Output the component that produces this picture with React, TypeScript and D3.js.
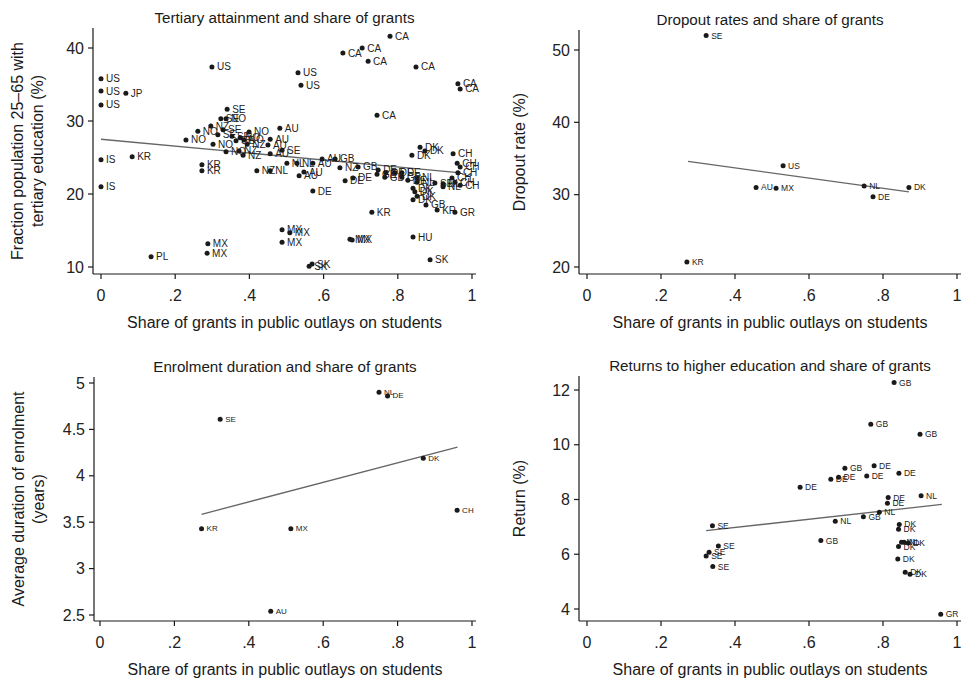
import * as d3 from "d3";

const FONT = "'Liberation Sans', Arial, Helvetica, sans-serif";

type Pt = [string, number, number];

const shareTicks = [0, 0.2, 0.4, 0.6, 0.8, 1];
const shareLabel = "Share of grants in public outlays on students";

// tertiary attainment: country, share of grants, % of population 25-65 with tertiary education
const tertiaryPoints: Pt[] = [
  ["US", 0, 35.8], ["US", 0, 34.1], ["US", 0, 32.2], ["JP", 0.067, 33.8],
  ["IS", 0, 24.7], ["IS", 0, 21.0], ["KR", 0.084, 25.1], ["PL", 0.135, 11.4],
  ["US", 0.299, 37.4], ["SE", 0.34, 31.6], ["SE", 0.323, 30.3], ["NO", 0.337, 30.3],
  ["NZ", 0.296, 29.3], ["NO", 0.261, 28.6], ["SE", 0.329, 28.8], ["NO", 0.399, 28.5],
  ["AU", 0.482, 29.0], ["NO", 0.229, 27.4], ["NO", 0.302, 26.8], ["SE", 0.315, 28.1],
  ["SE", 0.353, 27.9], ["NO", 0.375, 27.7], ["SE", 0.364, 27.3], ["NO", 0.385, 27.4],
  ["AU", 0.456, 27.5], ["AU", 0.45, 26.7], ["NZ", 0.394, 26.8], ["NZ", 0.372, 25.9],
  ["NO", 0.337, 25.8], ["NZ", 0.383, 25.3], ["AU", 0.456, 25.5], ["SE", 0.488, 26.0],
  ["NL", 0.501, 24.2], ["KR", 0.272, 24.0], ["KR", 0.272, 23.2], ["NZ", 0.42, 23.2],
  ["NL", 0.456, 23.2], ["NL", 0.528, 24.2], ["AU", 0.571, 24.2], ["AU", 0.596, 24.8],
  ["GB", 0.631, 24.8], ["AU", 0.547, 23.0], ["AU", 0.534, 22.5], ["NZ", 0.644, 23.6],
  ["GB", 0.693, 23.7], ["DE", 0.679, 22.2], ["DE", 0.658, 21.8], ["DE", 0.571, 20.4],
  ["DE", 0.747, 23.3], ["GB", 0.744, 22.7], ["GB", 0.765, 22.3], ["DE", 0.768, 22.9],
  ["DE", 0.792, 22.9], ["DE", 0.811, 22.9], ["DE", 0.827, 21.9], ["NL", 0.852, 22.2],
  ["NL", 0.852, 21.6], ["DK", 0.86, 26.4], ["DK", 0.873, 25.9], ["DK", 0.838, 25.3],
  ["CH", 0.949, 25.5], ["CH", 0.96, 24.2], ["CH", 0.968, 23.7], ["CH", 0.962, 22.9],
  ["CH", 0.946, 22.2], ["CH", 0.954, 21.6], ["CH", 0.968, 21.2], ["SE", 0.9, 21.5],
  ["NL", 0.922, 21.4], ["NL", 0.922, 21.0], ["DK", 0.841, 20.8], ["DK", 0.846, 20.3],
  ["DK", 0.852, 19.7], ["DK", 0.841, 19.2], ["GB", 0.876, 18.5], ["KR", 0.906, 17.8],
  ["GR", 0.954, 17.5], ["KR", 0.73, 17.5], ["MX", 0.488, 15.1], ["MX", 0.509, 14.7],
  ["MX", 0.488, 13.4], ["MX", 0.288, 13.2], ["MX", 0.286, 11.9], ["MX", 0.671, 13.8],
  ["MX", 0.677, 13.7], ["HU", 0.841, 14.1], ["SK", 0.887, 11.0], ["SK", 0.569, 10.4],
  ["SK", 0.561, 10.1], ["CA", 0.779, 41.6], ["CA", 0.704, 40.0], ["CA", 0.652, 39.3],
  ["CA", 0.72, 38.2], ["CA", 0.849, 37.4], ["CA", 0.962, 35.1], ["CA", 0.968, 34.4],
  ["US", 0.531, 36.6], ["US", 0.539, 34.9], ["CA", 0.744, 30.8], ["GB", 0.811, 22.3],
];
const tertiaryFit: [number, number][] = [[0, 27.5], [0.97, 22.9]];
const tertiaryTicks = [10, 20, 30, 40];

// dropout rates (%)
const dropoutPoints: Pt[] = [
  ["SE", 0.322, 52.0], ["US", 0.53, 34.0], ["AU", 0.457, 31.0], ["MX", 0.511, 30.9],
  ["NL", 0.749, 31.2], ["DE", 0.773, 29.7], ["DK", 0.87, 31.0], ["KR", 0.27, 20.7],
];
const dropoutFit: [number, number][] = [[0.273, 34.6], [0.87, 30.4]];
const dropoutTicks = [20, 30, 40, 50];

// average duration of enrolment (years)
const enrolPoints: Pt[] = [
  ["NL", 0.75, 4.9], ["DE", 0.773, 4.86], ["SE", 0.323, 4.61], ["DK", 0.869, 4.19],
  ["CH", 0.96, 3.63], ["KR", 0.273, 3.43], ["MX", 0.513, 3.43], ["AU", 0.459, 2.54],
];
const enrolFit: [number, number][] = [[0.273, 3.585], [0.961, 4.31]];
const enrolTicks = [2.5, 3, 3.5, 4, 4.5, 5];

// returns to higher education (%)
const returnPoints: Pt[] = [
  ["SE", 0.339, 7.04], ["SE", 0.355, 6.3], ["SE", 0.33, 6.07], ["SE", 0.322, 5.94],
  ["SE", 0.34, 5.55], ["GB", 0.83, 12.27], ["GB", 0.767, 10.75], ["GB", 0.9, 10.38],
  ["GB", 0.697, 9.14], ["DE", 0.776, 9.23], ["DE", 0.68, 8.81], ["DE", 0.659, 8.74],
  ["DE", 0.756, 8.86], ["DE", 0.843, 8.96], ["DE", 0.576, 8.45], ["DE", 0.814, 8.07],
  ["DE", 0.812, 7.86], ["NL", 0.903, 8.14], ["NL", 0.79, 7.53], ["GB", 0.747, 7.37],
  ["NL", 0.671, 7.21], ["GB", 0.632, 6.5], ["DK", 0.844, 7.09], ["DK", 0.842, 6.91],
  ["NL", 0.85, 6.44], ["DK", 0.842, 6.28], ["NL", 0.857, 6.44], ["DK", 0.868, 6.41],
  ["DK", 0.84, 5.83], ["DK", 0.86, 5.34], ["DK", 0.873, 5.27], ["GR", 0.956, 3.81],
];
const returnFit: [number, number][] = [[0.322, 6.86], [0.959, 7.82]];
const returnTicks = [4, 6, 8, 10, 12];

const fmtShare = (v: number) => (v === 0 ? "0" : v === 1 ? "1" : d3.format(".1f")(v).replace(/^0/, ""));

function Panel({ frame, xRange, yDomain, yRange, yTicks, points, fit, title, yLabel, labelSize }: any) {
  const x = d3.scaleLinear().domain([0, 1]).range(xRange);
  const y = d3.scaleLinear().domain(yDomain).range(yRange);
  const line = d3.line<[number, number]>().x((d) => x(d[0])).y((d) => y(d[1]));
  const { left, right, top, bottom } = frame;
  const cy = (top + bottom) / 2;
  const cx = (left + right) / 2;
  const labelXs = yLabel.length === 2 ? [left - 76, left - 56] : [left - 60];
  return (
    <g fontFamily={FONT}>
      <text x={cx} y={top - 10.5} textAnchor="middle" dominantBaseline="central" fontSize={15.2} fill="#1a1a1a">
        {title}
      </text>
      {yLabel.map((t: string, i: number) => (
        <text key={i} transform={`translate(${labelXs[i]},${cy}) rotate(-90)`} textAnchor="middle"
          dominantBaseline="central" fontSize={16} fill="#1a1a1a">
          {t}
        </text>
      ))}
      <line x1={left} x2={left} y1={top} y2={bottom} stroke="#1a1a1a" strokeWidth={1.2} />
      <line x1={left} x2={right} y1={bottom} y2={bottom} stroke="#1a1a1a" strokeWidth={1.2} />
      {yTicks.map((t: number) => (
        <g key={t} transform={`translate(${left},${y(t)})`}>
          <line x1={0} x2={-5} stroke="#1a1a1a" strokeWidth={1.2} />
          <text x={-9} textAnchor="end" dominantBaseline="central" fontSize={16} fill="#222">
            {t}
          </text>
        </g>
      ))}
      {shareTicks.map((t) => (
        <g key={t} transform={`translate(${x(t)},${bottom})`}>
          <line y1={0} y2={5} stroke="#1a1a1a" strokeWidth={1.2} />
          <text y={21} textAnchor="middle" dominantBaseline="central" fontSize={16} fill="#222">
            {fmtShare(t)}
          </text>
        </g>
      ))}
      <text x={cx} y={bottom + 48} textAnchor="middle" dominantBaseline="central" fontSize={16} fill="#1a1a1a">
        {shareLabel}
      </text>
      <path d={line(fit) ?? ""} fill="none" stroke="#666" strokeWidth={1.3} />
      {points.map((p: Pt, i: number) => (
        <g key={i}>
          <circle cx={x(p[1])} cy={y(p[2])} r={2.5} fill="#1a1a1a" />
          <text x={x(p[1]) + 5} y={y(p[2])} dominantBaseline="central" fontSize={labelSize} fill="#222">
            {p[0]}
          </text>
        </g>
      ))}
    </g>
  );
}

export default function App() {
  return (
    <div style={{ position: "absolute", left: 0, top: 0 }}>
      <svg width={964} height={680} style={{ display: "block", background: "#fff" }}>
        <Panel
          frame={{ left: 93, right: 476, top: 28, bottom: 274 }}
          xRange={[101, 472]} yDomain={[10, 40]} yRange={[267, 48]} yTicks={tertiaryTicks}
          points={tertiaryPoints} fit={tertiaryFit} labelSize={10}
          title="Tertiary attainment and share of grants"
          yLabel={["Fraction population 25\u201365 with", "tertiary education (%)"]}
        />
        <Panel
          frame={{ left: 579, right: 961, top: 30, bottom: 274 }}
          xRange={[587, 957]} yDomain={[20, 50]} yRange={[267, 50]} yTicks={dropoutTicks}
          points={dropoutPoints} fit={dropoutFit} labelSize={8.5}
          title="Dropout rates and share of grants"
          yLabel={["Dropout rate (%)"]}
        />
        <Panel
          frame={{ left: 94, right: 476, top: 377, bottom: 621 }}
          xRange={[100, 472]} yDomain={[2.5, 5]} yRange={[615, 383]} yTicks={enrolTicks}
          points={enrolPoints} fit={enrolFit} labelSize={8}
          title="Enrolment duration and share of grants"
          yLabel={["Average duration of enrolment", "(years)"]}
        />
        <Panel
          frame={{ left: 579, right: 961, top: 376, bottom: 621 }}
          xRange={[587, 957]} yDomain={[4, 12]} yRange={[609, 390]} yTicks={returnTicks}
          points={returnPoints} fit={returnFit} labelSize={8.5}
          title="Returns to higher education and share of grants"
          yLabel={["Return (%)"]}
        />
      </svg>
    </div>
  );
}
